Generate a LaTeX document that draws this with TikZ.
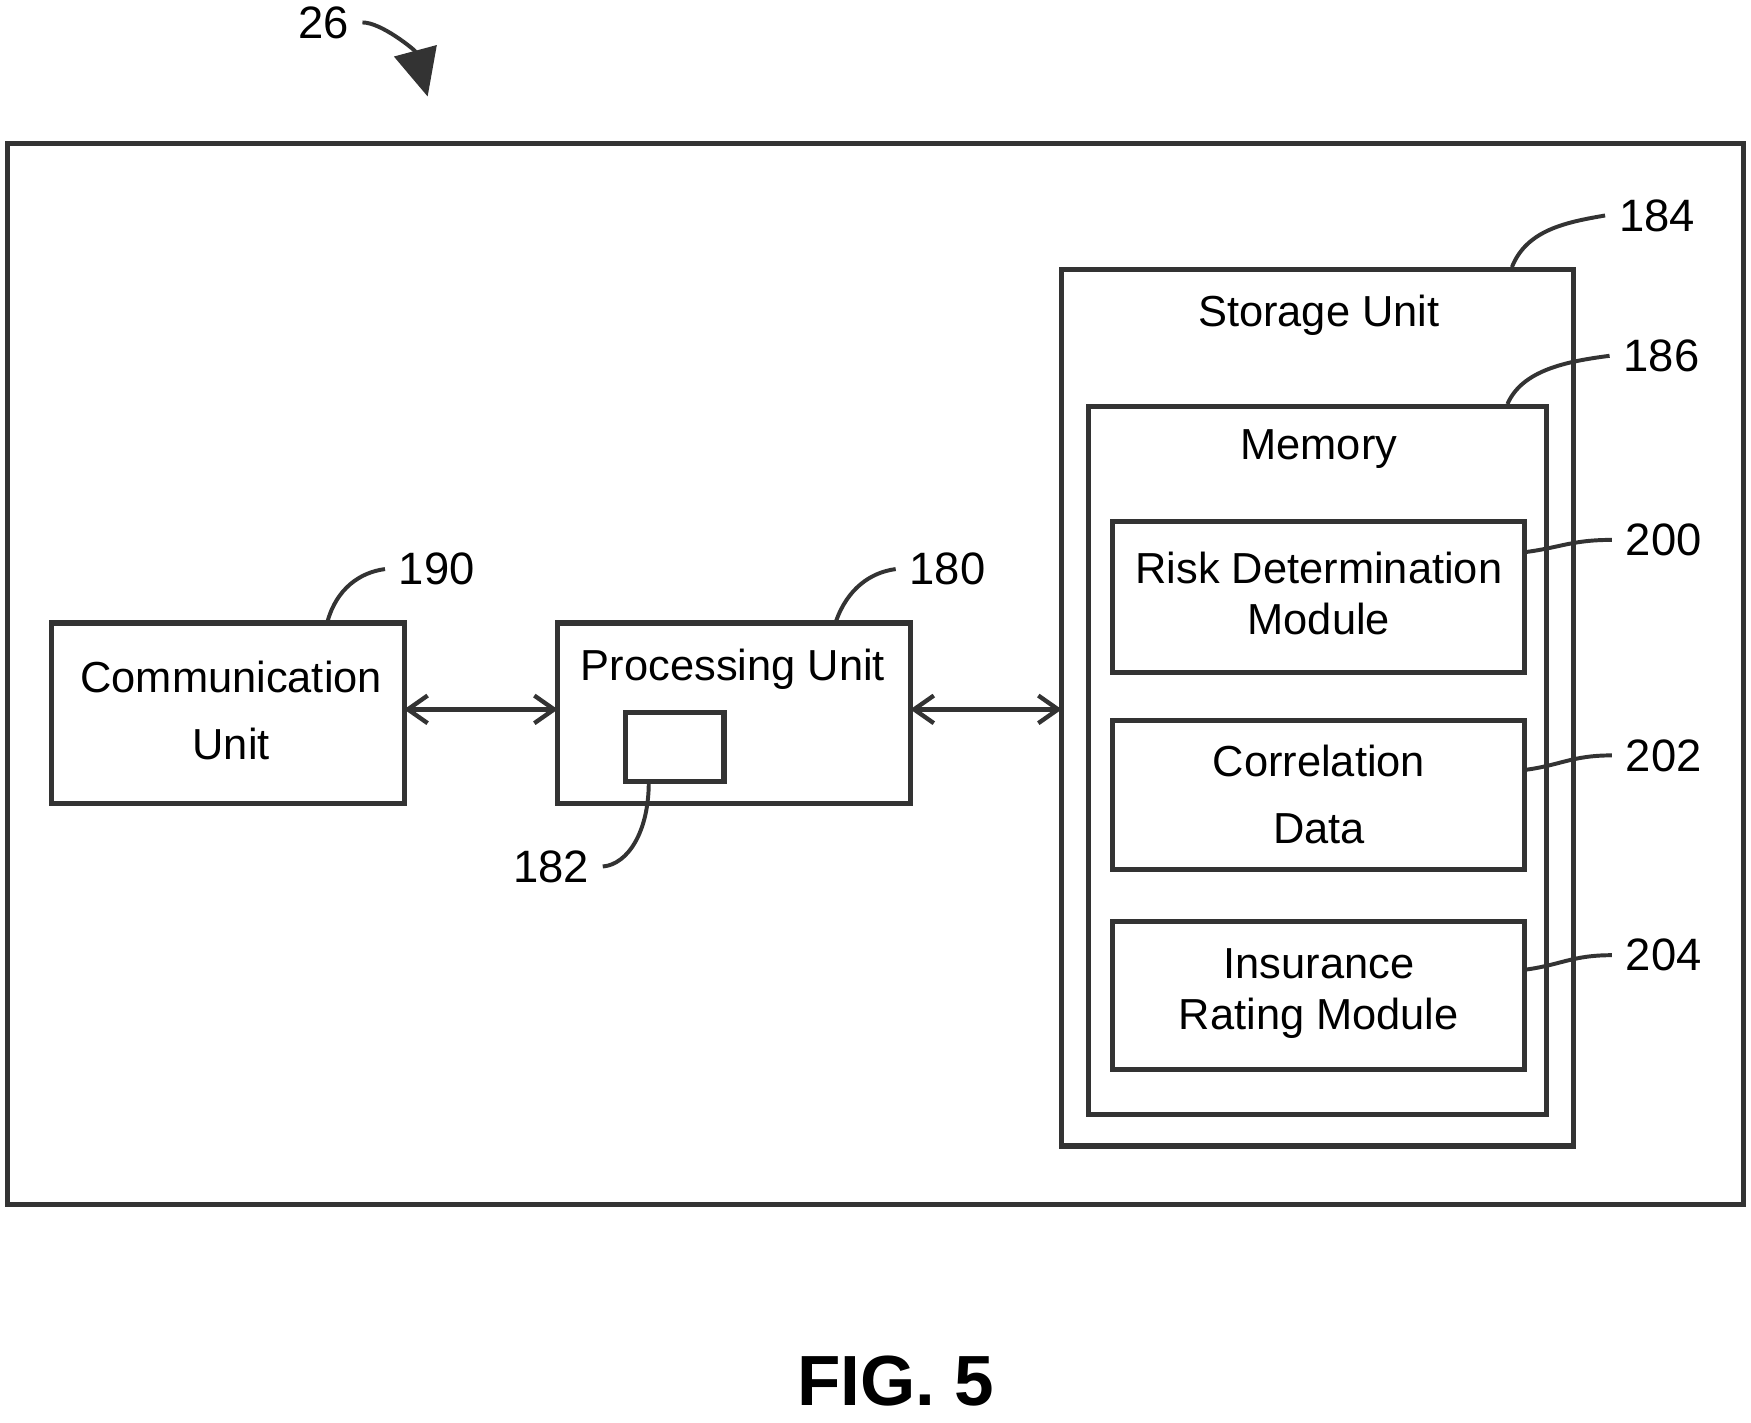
\documentclass[tikz,border=0pt]{standalone}
\usepackage{fontspec}
\setmainfont{Liberation Sans}
\usetikzlibrary{arrows.meta}
\tikzset{
  blk/.style={draw=black!80, line width=1.3pt, inner sep=0pt},
  lead/.style={draw=black!80, line width=1pt},
  num/.style={font=\fontsize{11.5}{14}\selectfont},
  lbl/.style={font=\fontsize{11}{13}\selectfont, align=center},
  dbl/.style={draw=black!80, line width=1.1pt, {Straight Barb[length=5pt,width=7pt]}-{Straight Barb[length=5pt,width=7pt]}}
}
\begin{document}
\begin{tikzpicture}[x=0.01cm,y=-0.01cm]
            \useasboundingbox (0,0) rectangle (1560,1267);

            % outer frame
            \draw[blk] (7,128) rectangle (1553,1073);

            % communication and processing
            \draw[blk] (46,555) rectangle (360,716);
            \coordinate (commE) at (360,632);
            \node[lbl] (commT) at (206,633) {Communication\\[4pt]Unit};
            \draw[blk] (497,555) rectangle (811,716);
            \coordinate (procW) at (497,632);
            \coordinate (procE) at (811,632);
            \node[lbl] (procT) at (653,596) {Processing Unit};
            \draw[blk] (557,635) rectangle (645,696);

            % storage
            \draw[blk] (946,240) rectangle (1402,1021);
            \coordinate (storW) at (946,632);
            \node[lbl] (storT) at (1175,281) {Storage Unit};
            \draw[blk] (970,362) rectangle (1378,993);
            \node[lbl] (memT) at (1175,400) {Memory};
            \draw[blk] (991,465) rectangle (1358,599);
            \node[lbl] (riskT) at (1175,529) {Risk Determination\\Module};
            \draw[blk] (991,642) rectangle (1358,775);
            \node[lbl] (corrT) at (1175,708) {Correlation\\[4pt]Data};
            \draw[blk] (991,821) rectangle (1358,953);
            \node[lbl] (insT) at (1175,885) {Insurance\\Rating Module};

            % connectors
            \draw[dbl] (commE) -- (procW);
            \draw[dbl] (procE) -- (storW);

            % reference numerals
            \node[num, anchor=west] (n190) at (343,507) {190};
            \draw[lead] (292,553) .. controls (300,525) and (320,510) .. (n190.west);
            \node[num, anchor=west] (n180) at (798,507) {180};
            \draw[lead] (745,553) .. controls (755,525) and (775,510) .. (n180.west);
            \node[num, anchor=east] (n182) at (537,772) {182};
            \draw[lead] (578,697) .. controls (578,740) and (560,770) .. (n182.east);
            \node[num, anchor=west] (n184) at (1430,192) {184};
            \draw[lead] (1347,238) .. controls (1360,205) and (1395,198) .. (n184.west);
            \node[num, anchor=west] (n186) at (1434,317) {186};
            \draw[lead] (1343,360) .. controls (1356,330) and (1395,322) .. (n186.west);
            \node[num, anchor=west] (n200) at (1436,481) {200};
            \draw[lead] (1358,492) .. controls (1390,488) and (1400,481) .. (n200.west);
            \node[num, anchor=west] (n202) at (1436,673) {202};
            \draw[lead] (1358,686) .. controls (1390,682) and (1400,673) .. (n202.west);
            \node[num, anchor=west] (n204) at (1436,851) {204};
            \draw[lead] (1358,864) .. controls (1390,860) and (1400,851) .. (n204.west);

            % figure number
            \node[num] (n26) at (288,20) {26};
            \draw[lead, -{Triangle[length=12pt,width=11pt]}] (n26.east) .. controls (340,20) and (370,45) .. (381,86);
            \node[font=\fontsize{18}{21}\selectfont\bfseries] (fig) at (798,1230) {FIG. 5};
\end{tikzpicture}
\end{document}
